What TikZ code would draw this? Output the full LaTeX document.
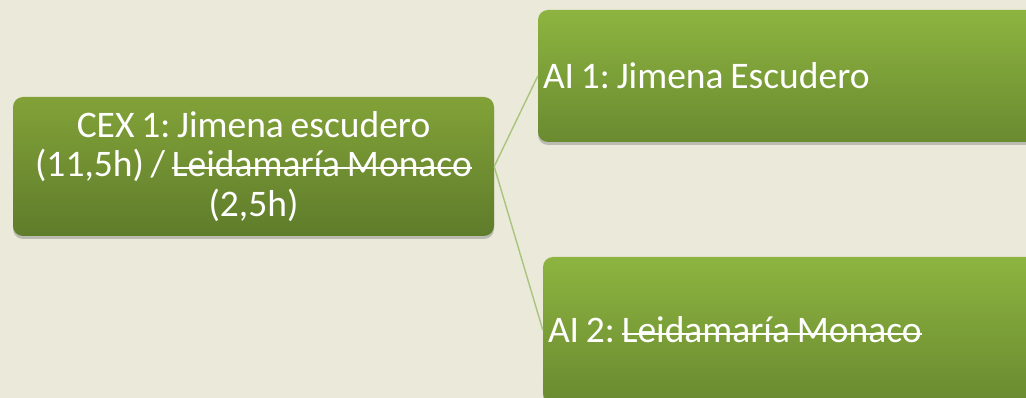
\documentclass[tikz,border=0pt]{standalone}
\usepackage{fontspec}
\setmainfont{Carlito}[WordSpace=0.8]
\frenchspacing
\newcommand\strk[1]{\setbox0\hbox{#1}\rlap{\copy0}\rule[\dimexpr0.5ex-0.9pt\relax]{\wd0}{1.8pt}}
\usetikzlibrary{shadows}
\definecolor{bg}{HTML}{EBE9DA}
\definecolor{lgtop}{HTML}{82A238}
\definecolor{lgbot}{HTML}{5F7C2B}
\definecolor{rgtop}{HTML}{8DB440}
\definecolor{rgbot}{HTML}{6A8A30}
\definecolor{conn}{HTML}{A9C47C}
\tikzset{
  txt/.style={font=\fontsize{37.5}{39.5}\selectfont\frenchspacing, text=white, inner sep=0pt},
  box/.style={rounded corners=10pt, draw=none, inner sep=0pt,
    drop shadow={shadow xshift=0pt, shadow yshift=-3pt, opacity=0.35, fill=black!60}},
  lbox/.style={box, txt, top color=lgtop, bottom color=lgbot},
  rbox/.style={box, top color=rgtop, bottom color=rgbot},
  conline/.style={draw=conn, line width=1.4pt}
}
\begin{document}
\begin{tikzpicture}[x=1pt,y=-1pt]
\fill[bg] (0,0) rectangle (1026,398);
\useasboundingbox (0,0) rectangle (1026,398);
\node[lbox, minimum width=481pt, minimum height=139pt, align=center] (cex) at (253.5,166.5)
  {CEX 1: Jimena escudero\\(11,5h) / \strk{Leidamaría Monaco}\\(2,5h)};
\node[rbox, minimum width=502pt, minimum height=132pt] (ai1) at (789,76) {};
\node[txt, anchor=west] (ai1t) at ([xshift=5pt]ai1.west) {AI 1: Jimena Escudero};
\node[rbox, minimum width=502pt, minimum height=146pt] (ai2) at (794,330) {};
\node[txt, anchor=west] (ai2t) at ([xshift=5pt]ai2.west) {AI 2: \strk{Leidamaría Monaco}};
\draw[conline] (cex.east) -- (ai1.west);
\draw[conline] (cex.east) -- (ai2.west);
\end{tikzpicture}
\end{document}
